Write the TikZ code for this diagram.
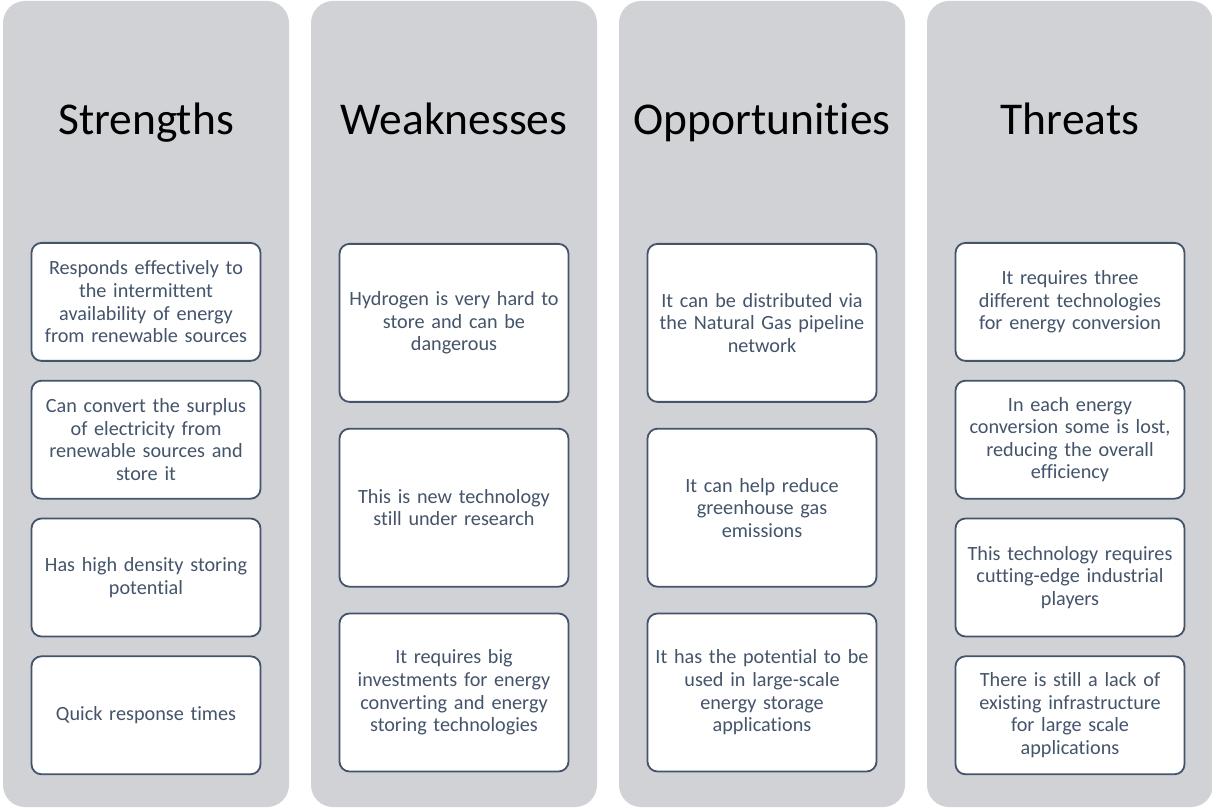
\documentclass[tikz,border=0pt]{standalone}
\usepackage{fontspec}
\setmainfont{Carlito}[Ligatures=CommonOff]
\usepackage{xcolor}
\usetikzlibrary{positioning}
\definecolor{panel}{HTML}{D0D2D6}
\definecolor{slate}{HTML}{44546A}

\begin{document}
\begin{tikzpicture}[
  x=1pt,y=1pt,
  col/.style={draw=none,fill=panel,rounded corners=22pt,minimum width=286pt,minimum height=806pt,inner sep=0pt},
  ttl/.style={anchor=base,font=\fontsize{45.5}{52}\selectfont,text=black},
  cell/.style={draw=slate,line width=1.8pt,fill=white,rounded corners=10pt,minimum width=229pt,text width=226pt,inner sep=0pt,align=center,text=slate,font=\fontsize{20.2}{22.6}\selectfont},
  short/.style={cell,minimum height=118pt},
  tall/.style={cell,minimum height=158pt}]
\useasboundingbox (0,0) rectangle (1212,809);
% the four panels
\node[col] (str) at (146,405) {};
\node[col] (wk) at (454,405) {};
\node[col] (opp) at (762,405) {};
\node[col] (thr) at (1070,405) {};
\node[ttl] (strT) at (146,674) {Strengths};
\node[ttl] (wkT) at (454,674) {Weaknesses};
\node[ttl] (oppT) at (762,674) {Opportunities};
\node[ttl] (thrT) at (1070,674) {Threats};
% strengths
\node[short,anchor=north] (str1) at (146,567) {Responds effectively to\\the intermittent\\availability of energy\\from renewable sources};
\node[short,below=18pt of str1] (str2) {Can convert the surplus\\of electricity from\\renewable sources and\\store it};
\node[short,below=18pt of str2] (str3) {Has high density storing\\potential};
\node[short,below=18pt of str3] (str4) {Quick response times};
% weaknesses
\node[tall,anchor=north] (wk1) at (454,566) {Hydrogen is very hard to\\store and can be\\dangerous};
\node[tall,below=25pt of wk1] (wk2) {This is new technology\\still under research};
\node[tall,below=25pt of wk2] (wk3) {It requires big\\investments for energy\\converting and energy\\storing technologies};
% opportunities
\node[tall,anchor=north] (opp1) at (762,566) {It can be distributed via\\the Natural Gas pipeline\\network};
\node[tall,below=25pt of opp1] (opp2) {It can help reduce\\greenhouse gas\\emissions};
\node[tall,below=25pt of opp2] (opp3) {It has the potential to be\\used in large-scale\\energy storage\\applications};
% threats
\node[short,anchor=north] (thr1) at (1070,567) {It requires three\\different technologies\\for energy conversion};
\node[short,below=18pt of thr1] (thr2) {In each energy\\conversion some is lost,\\reducing the overall\\efficiency};
\node[short,below=18pt of thr2] (thr3) {This technology requires\\cutting-edge industrial\\players};
\node[short,below=18pt of thr3] (thr4) {There is still a lack of\\existing infrastructure\\for large scale\\applications};
\end{tikzpicture}
\end{document}
